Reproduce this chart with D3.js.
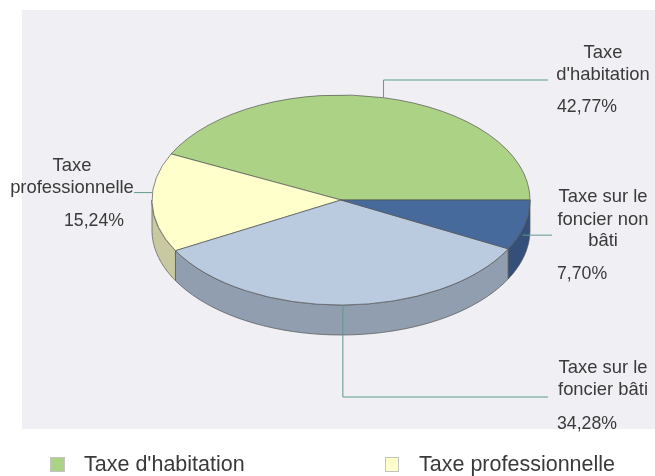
<!DOCTYPE html>
<html>
<head>
<meta charset="utf-8">
<script src="https://cdn.jsdelivr.net/npm/d3@7"></script>
<style>
	html, body { margin: 0; padding: 0; background: #fff; overflow: hidden; }
	svg { filter: blur(0.35px); }
	text { font-family: "Liberation Sans", Arial, sans-serif; fill: #3a3a3a; }
</style>
</head>
<body>
<div id="chart"></div>
<script>
// Values
let categories = ["Taxe d'habitation", "Taxe professionnelle", "Taxe sur le foncier bâti", "Taxe sur le foncier non bâti"];
let shares = [42.77, 15.24, 34.28, 7.70];
let shareLabels = ["42,77%", "15,24%", "34,28%", "7,70%"];
let labelLines = [["Taxe", "d'habitation"], ["Taxe", "professionnelle"], ["Taxe sur le", "foncier bâti"], ["Taxe sur le", "foncier non", "bâti"]];
let topColors = ["#acd285", "#ffffcc", "#bacbe0", "#466a9c"];
let sideColors = ["#7f9c62", "#c8c9a0", "#909eb0", "#34507a"];
let legendItems = [0, 1];

let width = 655;
let height = 476;
let cx = 341;
let cy = 200;
let rx = 189;
let ry = 105;
let depth = 30;

let svg = d3.select("#chart")
	.append("svg")
	.attr("width", width)
	.attr("height", height)
	.style("display", "block");

svg.append("rect")
	.attr("x", 22)
	.attr("y", 10)
	.attr("width", width - 22)
	.attr("height", 419)
	.attr("fill", "#efeff4");

// Angles run counterclockwise from the east side
let pie = d3.pie()
	.sort(null)
	.value(d => d)
	.startAngle(Math.PI / 2)
	.endAngle(Math.PI / 2 - 2 * Math.PI);

let arcs = pie(shares);

let px = a => cx + rx * Math.sin(a);
let py = a => cy - ry * Math.cos(a);

// Rim of the disc: only the part facing the viewer
let frontFrom = -Math.PI / 2;
let frontTo = -3 * Math.PI / 2;

arcs.forEach((d, i) => {
	let a0 = Math.min(d.startAngle, frontFrom);
	let a1 = Math.max(d.endAngle, frontTo);
	if (a0 <= a1) return;
	let top = d3.range(0, 41).map(k => a0 + (a1 - a0) * k / 40);
	let pts = top.map(a => [px(a), py(a)]).concat(top.slice().reverse().map(a => [px(a), py(a) + depth]));
	svg.append("path")
		.attr("d", d3.line()(pts) + "Z")
		.attr("fill", sideColors[i])
		.attr("stroke", "#555")
		.attr("stroke-width", 0.7);
});

// Top face
let arc = d3.arc().innerRadius(0).outerRadius(rx);
svg.append("g")
	.attr("transform", `translate(${cx},${cy}) scale(1,${ry / rx})`)
	.selectAll("path")
	.data(arcs)
	.enter()
	.append("path")
	.attr("d", arc)
	.attr("fill", (d, i) => topColors[i])
	.attr("stroke", "#555")
	.attr("stroke-width", 0.7)
	.attr("vector-effect", "non-scaling-stroke");

// Leader lines start near the middle of each slice's outer edge
let midAngles = arcs.map(d => (d.startAngle + d.endAngle) / 2);
let leaderPath = [
	(x, y) => [[x, y], [x, 80], [548, 80]],
	(x, y) => [[x, y - 10], [134, y - 10]],
	(x, y) => [[x, y], [x, 397], [548, 397]],
	(x, y) => [[x - 2, y + 10], [552, y + 10]]
];
leaderPath.forEach((f, i) => {
	svg.append("path")
		.attr("d", d3.line()(f(px(midAngles[i]), py(midAngles[i]))))
		.attr("fill", "none")
		.attr("stroke", "#5f9a8c")
		.attr("stroke-width", 1);
});

// Data labels
let labelPos = [
	{ x: 603, y: [58, 80], px: 557, py: 112 },
	{ x: 72, y: [171, 193], px: 64, py: 226 },
	{ x: 603, y: [373, 395], px: 557, py: 429 },
	{ x: 603, y: [202, 225, 246], px: 557, py: 279 }
];
labelLines.forEach((lines, i) => {
	lines.forEach((t, k) => {
		svg.append("text")
			.attr("x", labelPos[i].x)
			.attr("y", labelPos[i].y[k])
			.attr("text-anchor", "middle")
			.attr("font-size", 18.4)
			.text(t);
	});
	svg.append("text")
		.attr("x", labelPos[i].px)
		.attr("y", labelPos[i].py)
		.attr("font-size", 17.7)
		.text(shareLabels[i]);
});

// Legend sits tight against the bottom of the picture
let legendX = [50, 385];
legendItems.forEach((c, i) => {
	svg.append("rect")
		.attr("x", legendX[i] + 0.5)
		.attr("y", 457.5)
		.attr("width", i === 0 ? 14 : 13)
		.attr("height", 14)
		.attr("fill", topColors[c])
		.attr("stroke", "#c4c4c4")
		.attr("stroke-width", 1);
	svg.append("text")
		.attr("x", legendX[i] + 34)
		.attr("y", 471)
		.attr("font-size", 21.5)
		.text(categories[c]);
});
</script>
</body>
</html>
